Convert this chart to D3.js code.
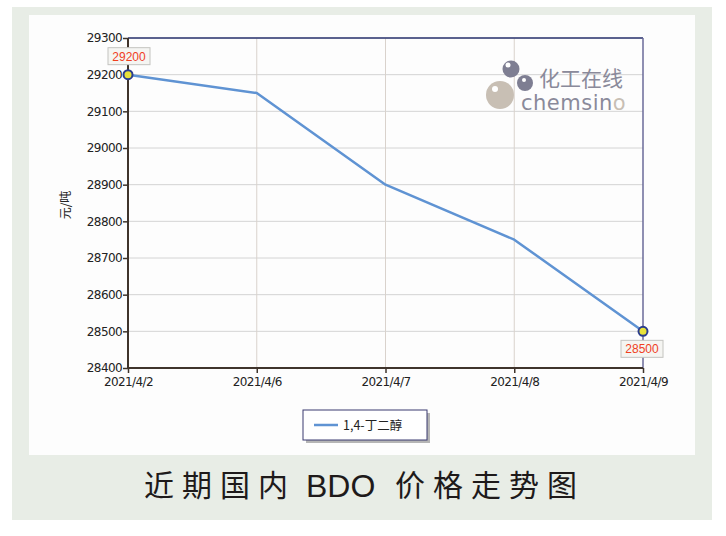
<!DOCTYPE html>
<html><head><meta charset="utf-8">
<script src="https://cdn.jsdelivr.net/npm/d3@7"></script>
<style>body{margin:0;background:#fff}svg{display:block}</style>
</head><body>
<script>
const categories = ["2021/4/2","2021/4/6","2021/4/7","2021/4/8","2021/4/9"];
const values = [29200, 29150, 28900, 28750, 28500];
const yTicks = [28400,28500,28600,28700,28800,28900,29000,29100,29200,29300];
const seriesName = "1,4-丁二醇";
const labeled = [0, 4];
const titleParts = ["近期国内", "BDO", "价格走势图"];

(function(){
const W = 726, H = 536;
const svg = d3.select("body").append("svg").attr("width", W).attr("height", H);
svg.append("rect").attr("x",12).attr("y",7).attr("width",700).attr("height",513).attr("fill","#e8ede6");
svg.append("rect").attr("x",29).attr("y",15).attr("width",666).attr("height",440).attr("fill","#fdfdfd");

const pL=128, pR=643, pT=38, pB=368;
const x = d3.scalePoint().domain(categories).range([pL,pR]);
const y = d3.scaleLinear().domain([28400,29300]).range([pB,pT]);

const g = svg.append("g");
g.selectAll("line.h").data(yTicks).enter().append("line")
  .attr("x1",pL).attr("x2",pR).attr("y1",d=>y(d)).attr("y2",d=>y(d))
  .attr("stroke","#d4d4d4").attr("stroke-width",1);
g.selectAll("line.v").data(categories.slice(1,-1)).enter().append("line")
  .attr("x1",d=>x(d)).attr("x2",d=>x(d)).attr("y1",pT).attr("y2",pB)
  .attr("stroke","#d9d2cc").attr("stroke-width",1);

// watermark
const wm = svg.append("g");
wm.append("circle").attr("cx",500).attr("cy",95).attr("r",14).attr("fill","#c8bfb4");
wm.append("circle").attr("cx",495).attr("cy",89).attr("r",3).attr("fill","#fff");
wm.append("circle").attr("cx",511).attr("cy",69).attr("r",8.5).attr("fill","#7e7e92");
wm.append("circle").attr("cx",508).attr("cy",65).attr("r",2.5).attr("fill","#fff");
wm.append("circle").attr("cx",525).attr("cy",83).attr("r",8).attr("fill","#7e7e92");
wm.append("circle").attr("cx",524).attr("cy",80).attr("r",2).attr("fill","#fff");
wm.append("text").attr("x",539).attr("y",86).attr("font-family","Noto Sans CJK SC").attr("font-size",21)
  .attr("fill","#8a8a9a").text("化工在线");
const cs = wm.append("text").attr("x",521).attr("y",110).attr("font-family","DejaVu Sans").attr("font-size",21)
  .attr("fill","#8a8a9a").attr("letter-spacing","0.5");
cs.append("tspan").text("chemsin");
cs.append("tspan").attr("fill","#c8bfb4").text("o");

g.append("line").attr("x1",pL).attr("x2",pR).attr("y1",pT).attr("y2",pT).attr("stroke","#2b3470").attr("stroke-width",1.5);
g.append("line").attr("x1",pR).attr("x2",pR).attr("y1",pT).attr("y2",pB).attr("stroke","#6a6a98").attr("stroke-width",1.5);

const yAxis = d3.axisLeft(y).tickValues(yTicks).tickSize(5).tickFormat(d3.format("d"));
const ya = svg.append("g").attr("transform",`translate(${pL},0)`).call(yAxis);
const xAxis = d3.axisBottom(x).tickSize(5);
const xa = svg.append("g").attr("transform",`translate(0,${pB})`).call(xAxis);
[ya,xa].forEach(a=>{
  a.select(".domain").attr("stroke","#3f342c").attr("stroke-width",2);
  a.selectAll(".tick line").attr("stroke","#3f342c").attr("stroke-width",1.5);
  a.selectAll("text").attr("font-family","DejaVu Sans, Verdana").attr("font-size",12)
    .attr("letter-spacing","-0.6").attr("fill","#222");
});
ya.select(".domain").attr("d",`M0,${pT}V${pB}`);
xa.select(".domain").attr("d",`M${pL},0H${pR}`);
ya.selectAll(".tick text").attr("x",-6);
xa.selectAll(".tick text").attr("y",9);

svg.append("text").attr("transform","translate(70,205) rotate(-90)").attr("text-anchor","middle")
  .attr("font-family","Noto Sans CJK SC").attr("font-size",12).attr("fill","#222").text("元/吨");

const line = d3.line().x((d,i)=>x(categories[i])).y(d=>y(d));
svg.append("path").datum(values).attr("d",line).attr("fill","none")
  .attr("stroke","#5f93d3").attr("stroke-width",2.5).attr("stroke-linejoin","round");

labeled.forEach((i,k)=>{
  const cx = x(categories[i]), cy = y(values[i]);
  const lx = k===0 ? cx-20 : cx-22, ly = k===0 ? cy-27 : cy+9;
  svg.append("rect").attr("x",lx).attr("y",ly).attr("width",42).attr("height",17)
    .attr("fill","#f5f5f2").attr("stroke","#c4c4c0");
  svg.append("text").attr("x",lx+21).attr("y",ly+13).attr("text-anchor","middle")
    .attr("font-family","Liberation Sans, Arial").attr("font-size",12).attr("fill","#f0401e").text(values[i]);
  svg.append("circle").attr("cx",cx).attr("cy",cy).attr("r",4.5).attr("fill","#e8e23a")
    .attr("stroke","#2a3c8e").attr("stroke-width",2);
});

svg.append("rect").attr("x",306).attr("y",413).attr("width",124).attr("height",30).attr("fill","#b5b5b5");
svg.append("rect").attr("x",303).attr("y",410).attr("width",124).attr("height",30).attr("fill","#fff")
  .attr("stroke","#3a3a70").attr("stroke-width",1);
svg.append("line").attr("x1",314).attr("x2",338).attr("y1",425).attr("y2",425).attr("stroke","#5f93d3").attr("stroke-width",2.5);
svg.append("text").attr("x",343).attr("y",430).attr("font-family","Noto Sans CJK SC").attr("font-size",12.5)
  .attr("fill","#222").text(seriesName);

const tx = [144, 306, 395];
titleParts.forEach((t,i)=>{
  svg.append("text").attr("x",tx[i]).attr("y",i===1 ? 497 : 496)
    .attr("font-family", i===1 ? "Liberation Sans, Arial" : "Noto Sans CJK SC")
    .attr("font-size", i===1 ? 32 : 30).attr("letter-spacing", i===1 ? 0 : 8)
    .attr("fill","#1e1a1a").text(t);
});
})();
</script>
</body></html>
